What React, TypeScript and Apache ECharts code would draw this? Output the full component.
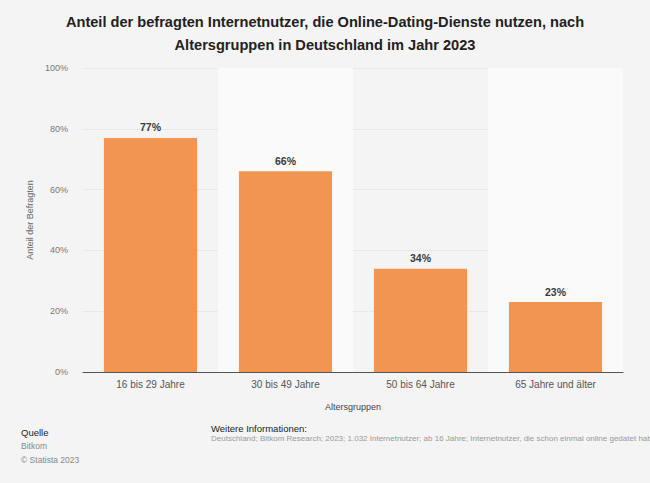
import React, { useEffect, useRef } from "react";
import * as echarts from "echarts";

const categories = ["16 bis 29 Jahre", "30 bis 49 Jahre", "50 bis 64 Jahre", "65 Jahre und älter"];
const values = [77, 66, 34, 23];
const yTicks = [0, 20, 40, 60, 80, 100];

const FONT = "'Liberation Sans', Arial, Helvetica, sans-serif";

export default function App() {
  const ref = useRef<HTMLDivElement>(null);
  useEffect(() => {
    document.body.style.margin = "0";
    if (!ref.current) return;
    const chart = echarts.init(ref.current, null, { renderer: "svg" });
    chart.setOption({
      animation: false,
      backgroundColor: "#f4f4f4",
      textStyle: { fontFamily: FONT },
      title: {
        text: "Anteil der befragten Internetnutzer, die Online-Dating-Dienste nutzen, nach\nAltersgruppen in Deutschland im Jahr 2023",
        left: "center",
        top: 5,
        textStyle: { fontFamily: FONT, fontSize: 14.6, fontWeight: "bold", color: "#222", lineHeight: 23 },
      },
      grid: { left: 83, right: 27, top: 68, bottom: 111 },
      xAxis: {
        type: "category",
        data: categories,
        name: "Altersgruppen",
        nameLocation: "middle",
        nameGap: 30,
        nameTextStyle: { color: "#444", fontSize: 9, fontFamily: FONT },
        axisLine: { lineStyle: { color: "#555", width: 1 } },
        axisTick: { show: false },
        axisLabel: { color: "#555", fontSize: 10, margin: 7, fontFamily: FONT },
        splitArea: { show: true, areaStyle: { color: ["rgba(0,0,0,0)", "#fafafa"] } },
      },
      yAxis: {
        type: "value",
        min: yTicks[0],
        max: yTicks[yTicks.length - 1],
        interval: 20,
        name: "Anteil der Befragten",
        nameLocation: "middle",
        nameGap: 41,
        nameTextStyle: { color: "#666", fontSize: 9, fontFamily: FONT },
        axisLine: { show: false },
        axisTick: { show: false },
        axisLabel: { formatter: "{value}%", color: "#777", fontSize: 9, margin: 15, fontFamily: FONT },
        splitLine: { lineStyle: { color: "#dedede", type: [1, 1], width: 1 } },
      },
      series: [
        {
          type: "bar",
          data: values,
          barWidth: "69%",
          itemStyle: { color: "#f29551" },
          label: {
            show: true,
            position: "top",
            formatter: "{c}%",
            color: "#3a3a3a",
            fontWeight: "bold",
            fontSize: 10.5,
            distance: 5,
            fontFamily: FONT,
          },
        },
      ],
      graphic: [
        { type: "text", left: 21, top: 427, style: { text: "Quelle", fontSize: 9.5, fill: "#222", fontFamily: FONT } },
        { type: "text", left: 21, top: 441, style: { text: "Bitkom", fontSize: 8.5, fill: "#888", fontFamily: FONT } },
        { type: "text", left: 21, top: 455, style: { text: "© Statista 2023", fontSize: 8.5, fill: "#888", fontFamily: FONT } },
        { type: "text", left: 211, top: 423, style: { text: "Weitere Informationen:", fontSize: 9.5, fill: "#222", fontFamily: FONT } },
        {
          type: "text",
          left: 211,
          top: 434,
          style: {
            text: "Deutschland; Bitkom Research; 2023; 1.032 Internetnutzer; ab 16 Jahre; Internetnutzer, die schon einmal online gedatet haben",
            fontSize: 8,
            fill: "#999",
            fontFamily: FONT,
          },
        },
      ],
    });
    return () => chart.dispose();
  }, []);
  return <div ref={ref} style={{ width: 650, height: 483 }} />;
}
